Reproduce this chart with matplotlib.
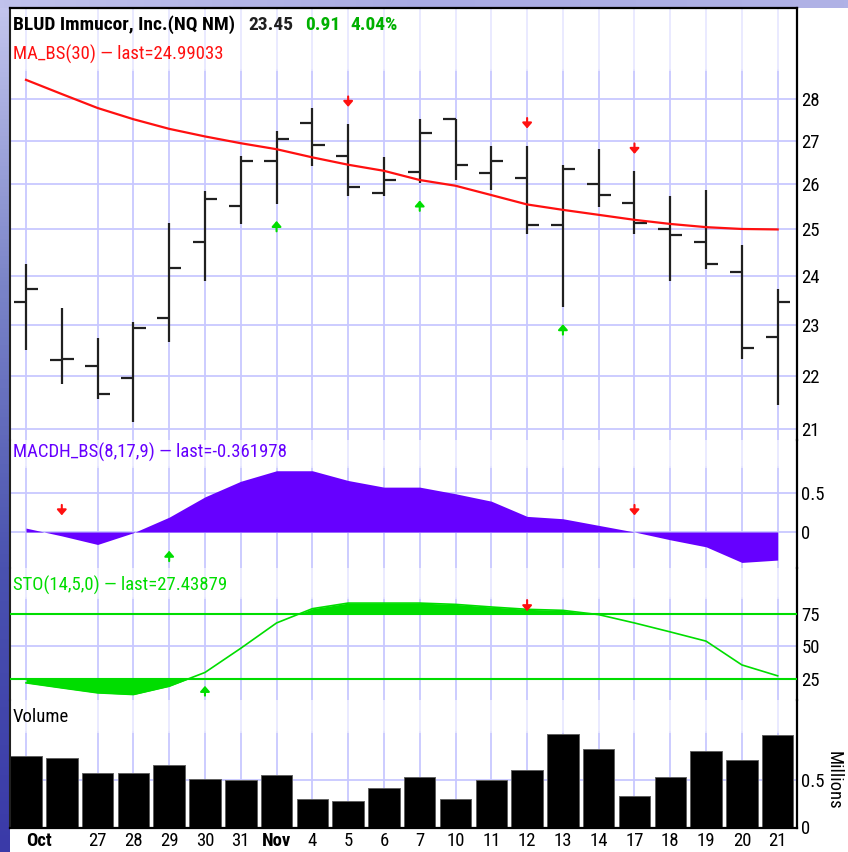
import numpy as np
import matplotlib
matplotlib.use("Agg")
import matplotlib.pyplot as plt
from matplotlib import transforms, font_manager

# bar labels (Oct 23 .. Nov 21), blank where no label is shown
tick_labels = ['Oct', '', '27', '28', '29', '30', '31', 'Nov', '4', '5', '6',
               '7', '10', '11', '12', '13', '14', '17', '18', '19', '20', '21']

opens = [23.46, 22.30, 22.19, 21.96, 23.13, 24.72, 25.50, 26.53, 27.41, 26.65, 25.80,
         26.28, 27.51, 26.26, 26.14, 25.08, 26.00, 25.58, 25.00, 24.72, 24.08, 22.75]
highs = [24.25, 23.33, 22.73, 23.06, 25.14, 25.85, 26.65, 27.23, 27.79, 27.39, 26.63,
         27.51, 27.51, 26.88, 26.88, 26.44, 26.80, 26.29, 25.72, 25.86, 24.65, 23.73]
lows = [22.50, 21.84, 21.56, 21.13, 22.65, 23.90, 25.10, 25.56, 26.42, 25.74, 25.74,
        26.02, 26.08, 25.86, 24.90, 23.36, 25.49, 24.90, 23.90, 24.14, 22.32, 21.45]
closes = [23.73, 22.33, 21.65, 22.93, 24.16, 25.67, 26.53, 27.03, 26.91, 25.93, 26.10,
          27.19, 26.44, 26.53, 25.08, 26.35, 25.75, 25.12, 24.87, 24.25, 22.54, 23.45]

ma30 = [28.47, 28.12, 27.78, 27.51, 27.28, 27.10, 26.94, 26.80, 26.61, 26.44, 26.30,
        26.09, 25.96, 25.75, 25.54, 25.42, 25.31, 25.20, 25.11, 25.04, 25.00, 24.99]

macdh = [0.05, -0.05, -0.16, -0.01, 0.19, 0.45, 0.65, 0.785, 0.785, 0.66, 0.575,
         0.575, 0.49, 0.395, 0.20, 0.17, 0.085, 0.0, -0.10, -0.19, -0.39, -0.36]

sto = [22.0, 18.1, 14.3, 13.0, 19.4, 30.0, 48.6, 68.1, 79.1, 83.4, 83.4,
       83.4, 82.4, 80.4, 78.6, 77.8, 74.5, 68.1, 61.2, 54.1, 35.8, 27.4]

volume = [0.753, 0.735, 0.577, 0.577, 0.655, 0.513, 0.500, 0.552, 0.296, 0.278, 0.415,
          0.534, 0.296, 0.500, 0.612, 0.993, 0.834, 0.334, 0.534, 0.809, 0.711, 0.975]

# signal arrows (bar index)
price_sell = [9, 14, 17]
price_buy = [7, 11, 15]
macd_sell = [1, 17]
macd_buy = [4]
sto_sell = [14]
sto_buy = [5]

price_ticks = [21, 22, 23, 24, 25, 26, 27, 28]

# pick a narrow face if one is around, otherwise Liberation Sans a bit smaller
installed = {f.name for f in font_manager.fontManager.ttflist}
FONT, SC = 'Liberation Sans', 0.84
for cand in ['Liberation Sans Narrow', 'Arial Narrow', 'Roboto Condensed', 'Open Sans Condensed']:
    if cand in installed:
        FONT, SC = cand, 1.0
        break
FAM = [FONT, 'DejaVu Sans']
FS = 13.5 * SC
FS_T = 14 * SC

GRID = '#C8C8FF'
GRID_FAINT = '#E8E8FF'
RED = '#FF1010'
PURPLE = '#6600FF'
GREEN = '#00DD00'

W, H = 848, 852
fig = plt.figure(figsize=(W / 100, H / 100), dpi=100)
fig.patch.set_facecolor('white')

# slide background strips (left and top)
bg = fig.add_axes([0, 0, 1, 1], zorder=-10)
bg.axis('off')
bg.set_xlim(0, W)
bg.set_ylim(H, 0)
left_grad = np.linspace(0, 1, 200).reshape(-1, 1)
bg.imshow(left_grad, extent=[0, 10, H, 0], aspect='auto',
          cmap=matplotlib.colors.LinearSegmentedColormap.from_list(
              'l', ['#C4C6EE', '#7A84C8', '#4A52B0', '#3A3AA8']))
top_grad = np.linspace(0, 1, 200).reshape(1, -1)
bg.imshow(top_grad, extent=[0, W, 8, 0], aspect='auto',
          cmap=matplotlib.colors.LinearSegmentedColormap.from_list(
              't', ['#C0C2EC', '#A8AAE2', '#B0B2E6']))


def panel(y0, y1):
    l = 10 / W
    w = (797 - 10) / W
    return fig.add_axes([l, 1 - y1 / H, w, (y1 - y0) / H])


ax_p = panel(8, 440)
ax_m = panel(440, 568)
ax_s = panel(568, 700)
ax_v = panel(700, 828)
axes = [ax_p, ax_m, ax_s, ax_v]

x = np.arange(len(opens))
grid_idx = [i for i, t in enumerate(tick_labels) if t != '']
header_frac = [1 - 62 / 432, 1 - 27 / 128, 1 - 30 / 132, 1 - 32 / 128]

for ax, hf in zip(axes, header_frac):
    ax.set_xlim(-0.447, 21.54)
    ax.set_facecolor('none')
    for i in grid_idx:
        ax.axvline(i, ymin=0, ymax=hf, color=GRID, lw=1.3, zorder=0)
        ax.axvline(i, ymin=hf, ymax=1, color=GRID_FAINT, lw=1.3, zorder=0)
    for s in ['top', 'bottom']:
        ax.spines[s].set_visible(False)
    ax.spines['left'].set_color('#202020')
    ax.spines['left'].set_linewidth(1.5)
    ax.spines['right'].set_color('black')
    ax.spines['right'].set_linewidth(1.6)
    ax.yaxis.tick_right()
    ax.tick_params(axis='y', length=0, pad=3)
    ax.set_xticks([])

ax_p.spines['top'].set_visible(True)
ax_p.spines['top'].set_linewidth(1.6)
ax_v.spines['bottom'].set_visible(True)
ax_v.spines['bottom'].set_linewidth(1.6)

# ---- price panel
ax_p.set_yscale('log')
ax_p.set_ylim(20.80, 30.31)
for p in price_ticks:
    ax_p.axhline(p, color=GRID, lw=1.3, zorder=0)
ax_p.vlines(x, lows, highs, color='#202020', lw=1.6, zorder=3)
ax_p.hlines(opens, x - 0.34, x, color='#202020', lw=1.6, zorder=3)
ax_p.hlines(closes, x, x + 0.34, color='#202020', lw=1.6, zorder=3)
ax_p.plot(x, ma30, color=RED, lw=1.6, zorder=4)
ax_p.yaxis.set_minor_locator(matplotlib.ticker.NullLocator())
ax_p.set_yticks(price_ticks)
ax_p.set_yticklabels([str(p) for p in price_ticks], family=FAM, fontsize=FS)


def arrow(ax, xi, yv, color, down, tip_pt, tail_pt):
    sign = 1 if down else -1
    tr_tip = transforms.offset_copy(ax.transData, fig=fig, x=0, y=sign * tip_pt, units='points')
    ax.annotate('', xy=(xi, yv), xycoords=tr_tip,
                xytext=(0, sign * (tail_pt - tip_pt)), textcoords='offset points',
                arrowprops=dict(arrowstyle='-|>,head_length=0.32,head_width=0.28',
                                color=color, lw=1.5, shrinkA=0, shrinkB=0),
                zorder=6)


for i in price_sell:
    arrow(ax_p, i, highs[i], RED, True, 12.5, 20)
for i in price_buy:
    arrow(ax_p, i, lows[i], GREEN, False, 12.5, 20)

# ---- MACD histogram panel
ax_m.set_ylim(-0.4615, 1.179)
for v in [0.5, 0]:
    ax_m.axhline(v, color=GRID, lw=1.3, zorder=0)
ax_m.fill_between(x, 0, macdh, color=PURPLE, lw=0, zorder=2)
ax_m.set_yticks([0.5, 0])
ax_m.set_yticklabels(['0.5', '0'], family=FAM, fontsize=FS)
for i in macd_sell:
    arrow(ax_m, i, 0, RED, True, 12, 19.5)
for i in macd_buy:
    arrow(ax_m, i, 0, GREEN, False, 13.5, 21)

# ---- stochastic panel
ax_s.set_ylim(8.8, 110.4)
ax_s.axhline(50, color=GRID, lw=1.3, zorder=0)
ax_s.axhline(75, color=GREEN, lw=1.5, zorder=3)
ax_s.axhline(25, color=GREEN, lw=1.5, zorder=3)
sto_a = np.array(sto)
ax_s.fill_between(x, 75, sto_a, where=sto_a >= 75, interpolate=True, color=GREEN, lw=0, zorder=2)
ax_s.fill_between(x, 25, sto_a, where=sto_a <= 25, interpolate=True, color=GREEN, lw=0, zorder=2)
ax_s.plot(x, sto, color=GREEN, lw=1.2, zorder=4)
ax_s.set_yticks([75, 50, 25])
ax_s.set_yticklabels(['75', '50', '25'], family=FAM, fontsize=FS)
for i in sto_sell:
    arrow(ax_s, i, 75, RED, True, 2, 10)
for i in sto_buy:
    arrow(ax_s, i, 25, GREEN, False, 5, 12)

# ---- volume panel
ax_v.set_ylim(-0.01, 1.351)
ax_v.axhline(0.5, color=GRID, lw=1.3, zorder=0)
ax_v.bar(x, volume, width=0.88, color='black', edgecolor='#606060', lw=0.7, zorder=2)
ax_v.set_yticks([0.5, 0])
ax_v.set_yticklabels(['0.5', '0'], family=FAM, fontsize=FS)
ax_v.set_xticks(grid_idx)
ax_v.set_xticklabels([tick_labels[i] for i in grid_idx], family=FAM, fontsize=FS)
ax_v.tick_params(axis='x', length=0, pad=3)
for lab in ax_v.get_xticklabels():
    if lab.get_text() in ('Oct', 'Nov'):
        lab.set_fontweight('bold')
ax_v.get_xticklabels()[0].set_ha('left')
ax_v.text(1.046, 0.37, 'Millions', transform=ax_v.transAxes, rotation=270,
          ha='center', va='center', family=FAM, fontsize=FS)


# ---- header texts
def ftxt(px, py, s, **kw):
    fig.text(px / W, 1 - py / H, s, va='baseline', ha='left', family=FAM, **kw)


ftxt(13, 30, 'BLUD Immucor, Inc.(NQ NM)', fontsize=FS_T, fontweight='bold', color='black')
ftxt(248, 30, '23.45', fontsize=FS_T, fontweight='bold', color='#202020')
ftxt(305, 30, '0.91', fontsize=FS_T, fontweight='bold', color='#00B000')
ftxt(350, 30, '4.04%', fontsize=FS_T, fontweight='bold', color='#00B000')
ftxt(13, 60, 'MA_BS(30) \u2014 last=24.99033', fontsize=FS, color=RED)
ftxt(13, 458, 'MACDH_BS(8,17,9) \u2014 last=-0.361978', fontsize=FS, color=PURPLE)
ftxt(13, 591, 'STO(14,5,0) \u2014 last=27.43879', fontsize=FS, color=GREEN)
ftxt(13, 722, 'Volume', fontsize=FS, color='black')

fig.savefig('out.png', dpi=100)
